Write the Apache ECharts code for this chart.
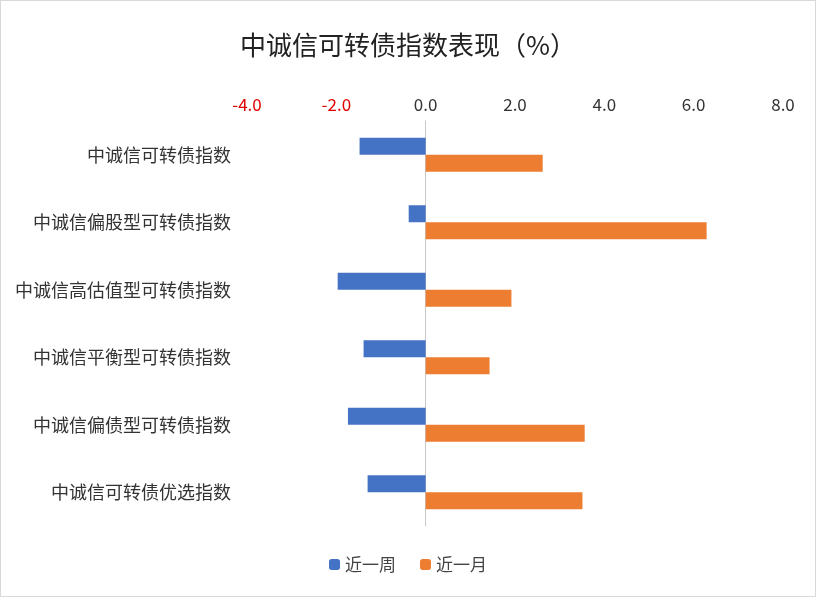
<!DOCTYPE html>
<html>
<head>
<meta charset="utf-8">
<script src="https://cdn.jsdelivr.net/npm/echarts@6/dist/echarts.min.js"></script>
<style>
  html, body { margin: 0; padding: 0; background: #fff; }
  #chart { width: 814px; height: 595px; border: 1px solid #d9d9d9; }
</style>
</head>
<body>
<div id="chart"></div>
<script>
const categories = ['中诚信可转债指数', '中诚信偏股型可转债指数', '中诚信高估值型可转债指数',
    '中诚信平衡型可转债指数', '中诚信偏债型可转债指数', '中诚信可转债优选指数']
const weekValues = [-1.48, -0.38, -1.97, -1.39, -1.74, -1.30]
const monthValues = [2.62, 6.29, 1.92, 1.43, 3.56, 3.51]

const font = '"Noto Sans CJK SC", sans-serif'

let myChart = echarts.init(document.getElementById('chart'))

let option = {
    textStyle: { fontFamily: font },
    title: {
        text: '中诚信可转债指数表现（%）',
        left: 'center',
        top: 26,
        textStyle: { fontSize: 26, fontWeight: 'normal', color: '#222', fontFamily: font }
    },
    legend: {
        bottom: 18,
        itemWidth: 11,
        itemHeight: 11,
        itemGap: 24,
        textStyle: { fontSize: 17, color: '#444', fontFamily: font },
        data: ['近一周', '近一月']
    },
    grid: { left: 246, right: 32, top: 120, bottom: 70 },
    xAxis: {
        type: 'value',
        position: 'top',
        min: -4,
        max: 8,
        interval: 2,
        splitLine: { show: false },
        axisLine: { show: false },
        axisTick: { show: false },
        axisLabel: {
            fontSize: 17,
            fontFamily: font,
            formatter: v => v.toFixed(1),
            color: v => (Number(v) < 0 ? '#e00000' : '#333')
        }
    },
    yAxis: {
        type: 'category',
        inverse: true,
        data: categories,
        axisTick: { show: false },
        axisLine: { onZero: true, lineStyle: { color: '#c8c8c8' } },
        axisLabel: { position: 'left', fontSize: 18, color: '#333', fontFamily: font, margin: 16 },
        splitLine: { show: false }
    },
    series: [
        { name: '近一周', type: 'bar', data: weekValues, barWidth: 17, barGap: '0%',
          itemStyle: { color: '#4472c4' } },
        { name: '近一月', type: 'bar', data: monthValues, barWidth: 17,
          itemStyle: { color: '#ed7d31' } }
    ]
}

myChart.setOption(option)
</script>
</body>
</html>
